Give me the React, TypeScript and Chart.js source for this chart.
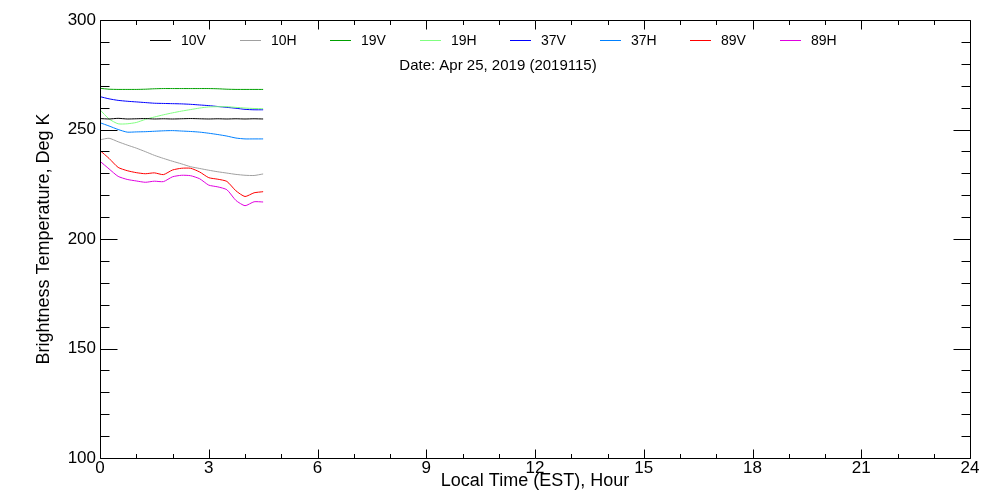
import React, { useEffect, useRef } from "react";
import { Chart, registerables } from "chart.js";

Chart.register(...registerables);

// ---- data ----
const hours = [0, 0.25, 0.5, 0.75, 1, 1.25, 1.5, 1.75, 2, 2.25, 2.5, 2.75, 3, 3.25, 3.5, 3.75, 4, 4.25, 4.5];

const tb10V = [255.0, 254.8, 255.1, 254.8, 254.9, 255.0, 254.8, 254.9, 254.8, 254.9, 255.0, 254.9, 254.8, 254.9, 254.8, 254.9, 254.8, 254.9, 254.8];
const tb10H = [245.3, 246.0, 244.4, 242.9, 241.5, 239.9, 238.2, 236.8, 235.5, 234.3, 233.0, 232.2, 231.4, 230.7, 230.1, 229.5, 229.1, 229.0, 229.7];
const tb19V = [268.8, 268.4, 268.3, 268.3, 268.3, 268.4, 268.6, 268.7, 268.7, 268.7, 268.7, 268.7, 268.7, 268.6, 268.4, 268.3, 268.3, 268.3, 268.3];
const tb19H = [259.0, 254.8, 252.6, 252.6, 253.2, 254.6, 255.7, 256.7, 257.6, 258.4, 259.1, 259.8, 260.3, 260.4, 260.4, 260.1, 259.8, 259.6, 259.5];
const tb37V = [265.0, 264.0, 263.3, 262.9, 262.6, 262.3, 262.0, 261.9, 261.8, 261.7, 261.5, 261.2, 260.9, 260.5, 260.1, 259.7, 259.2, 259.0, 259.0];
const tb37H = [253.1, 251.6, 250.0, 248.8, 248.9, 249.0, 249.2, 249.4, 249.5, 249.3, 249.1, 248.8, 248.3, 247.7, 247.0, 246.1, 245.7, 245.7, 245.7];
const tb89V = [240.4, 236.8, 232.7, 231.2, 230.3, 229.8, 230.2, 229.4, 231.5, 232.3, 232.3, 230.6, 228.0, 227.3, 226.3, 222.0, 219.4, 221.1, 221.6];
const tb89H = [235.5, 232.0, 228.6, 227.2, 226.5, 225.9, 226.4, 226.2, 228.4, 229.1, 228.9, 227.5, 224.6, 223.8, 222.5, 217.6, 215.2, 217.0, 216.9];

const channelLabels = ["10V", "10H", "19V", "19H", "37V", "37H", "89V", "89H"];
const channelValues = [tb10V, tb10H, tb19V, tb19H, tb37V, tb37H, tb89V, tb89H];
const channelColors = ["#000000", "#a0a0a0", "#00a000", "#80ff80", "#0000ff", "#0080ff", "#ff0000", "#e000e0"];

const xMin = 0;
const xMax = 24;
const xStep = 3;
const xMinorStep = 1;
const yMin = 100;
const yMax = 300;
const yStep = 50;
const yMinorStep = 10;

const xTitle = "Local Time (EST), Hour";
const yTitle = "Brightness Temperature, Deg K";
const dateText = "Date: Apr 25, 2019 (2019115)";

const FONT = "'Liberation Sans', Arial, sans-serif";

const framePlugin = {
  id: "idlFrame",
  afterDraw(chart: any) {
    const ctx = chart.ctx;
    const { left, right, top, bottom } = chart.chartArea;
    const xs = chart.scales.x;
    const ys = chart.scales.y;
    ctx.save();
    ctx.strokeStyle = "#000";
    ctx.lineWidth = 1;
    ctx.beginPath();
    const L = Math.round(left) + 0.5;
    const R = Math.round(right) + 0.5;
    const T = Math.round(top) + 0.5;
    const B = Math.round(bottom) + 0.5;
    ctx.rect(L, T, R - L, B - T);
    for (let v = xMin; v <= xMax + 1e-9; v += xMinorStep) {
      const px = Math.round(xs.getPixelForValue(v)) + 0.5;
      const major = Math.abs(v / xStep - Math.round(v / xStep)) < 1e-9;
      const len = major ? 9 : 4.5;
      ctx.moveTo(px, B);
      ctx.lineTo(px, B - len);
      ctx.moveTo(px, T);
      ctx.lineTo(px, T + len);
    }
    for (let v = yMin; v <= yMax + 1e-9; v += yMinorStep) {
      const py = Math.round(ys.getPixelForValue(v)) + 0.5;
      const major = Math.abs(v / yStep - Math.round(v / yStep)) < 1e-9;
      const len = major ? 17 : 9;
      ctx.moveTo(L, py);
      ctx.lineTo(L + len, py);
      ctx.moveTo(R, py);
      ctx.lineTo(R - len, py);
    }
    ctx.stroke();

    // legend
    ctx.font = `14px ${FONT}`;
    ctx.textBaseline = "middle";
    ctx.textAlign = "left";
    chart.data.datasets.forEach((ds: any, i: number) => {
      const x0 = left + 50 + 90 * i;
      const y0 = top + 20.5;
      ctx.strokeStyle = ds.borderColor;
      ctx.beginPath();
      ctx.moveTo(x0, y0);
      ctx.lineTo(x0 + 21, y0);
      ctx.stroke();
      ctx.fillStyle = "#000";
      ctx.fillText(ds.label, x0 + 31, y0 + 1);
    });
    ctx.font = `15px ${FONT}`;
    ctx.textAlign = "center";
    ctx.fillText(dateText, 498, top + 46);
    ctx.restore();
  },
};

export default function App() {
  const canvasRef = useRef<HTMLCanvasElement | null>(null);

  useEffect(() => {
    if (!canvasRef.current) return;
    Chart.defaults.color = "#000";
    const datasets = channelLabels.map((label, i) => ({
      label,
      data: hours.map((h, j) => ({ x: h, y: channelValues[i][j] })),
      borderColor: channelColors[i],
      backgroundColor: channelColors[i],
      borderWidth: 1,
      pointRadius: 0,
      tension: 0.2,
      fill: false,
    }));
    const chart = new Chart(canvasRef.current, {
      type: "line",
      data: { datasets },
      plugins: [framePlugin],
      options: {
        responsive: false,
        animation: false,
        layout: { padding: { top: 20, right: 30, left: 0, bottom: 0 } },
        plugins: { legend: { display: false }, tooltip: { enabled: false } },
        scales: {
          x: {
            type: "linear",
            min: xMin,
            max: xMax,
            grid: { display: false, drawTicks: false },
            border: { display: false },
            ticks: {
              stepSize: xStep,
              font: { family: FONT, size: 17 },
              color: "#000",
              padding: 0,
              maxRotation: 0,
            },
            title: {
              display: true,
              text: xTitle,
              font: { family: FONT, size: 18 },
              color: "#000",
              padding: { top: 0, bottom: 8 },
            },
            afterFit: (s: any) => {
              s.height = 42;
            },
          },
          y: {
            type: "linear",
            min: yMin,
            max: yMax,
            grid: { display: false, drawTicks: false },
            border: { display: false },
            ticks: {
              stepSize: yStep,
              font: { family: FONT, size: 17 },
              color: "#000",
              padding: 4,
            },
            title: {
              display: true,
              text: yTitle,
              font: { family: FONT, size: 18 },
              color: "#000",
              padding: { top: 33, bottom: 0 },
            },
            afterFit: (s: any) => {
              s.width = 100;
            },
          },
        },
      },
    });
    return () => chart.destroy();
  }, []);

  return (
    <div style={{ position: "absolute", left: 0, top: 0, width: 1000, height: 500, background: "#fff" }}>
      <canvas ref={canvasRef} width={1000} height={500} style={{ display: "block" }} />
    </div>
  );
}
